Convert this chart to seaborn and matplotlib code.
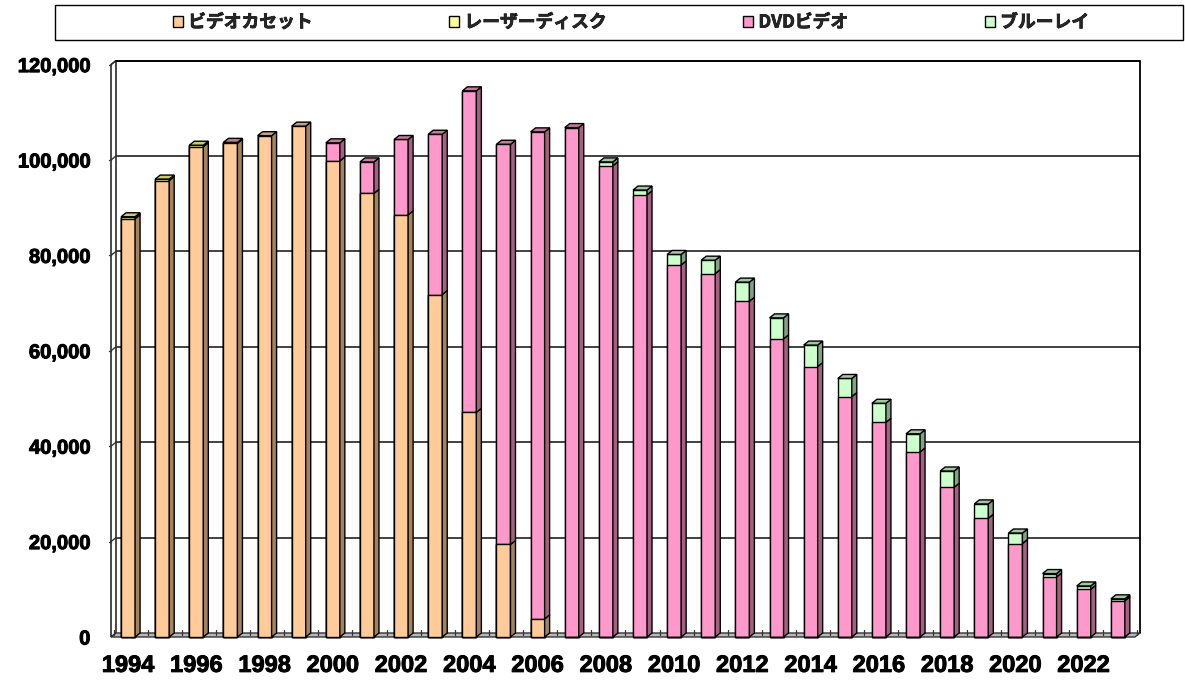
import numpy as np
import pandas as pd
import matplotlib
matplotlib.use("Agg")
import matplotlib.pyplot as plt
import matplotlib.patheffects as pe
import seaborn as sns
from matplotlib.patches import Polygon, Rectangle
from matplotlib.font_manager import FontProperties

# ---------------- data ----------------
years = list(range(1994, 2024))
vhs = [87700, 95700, 102800, 103500, 105100, 107100, 99800, 93000, 88500, 71800,
       47100, 19400, 3800] + [0] * 17
laserdisc = [400, 300, 300] + [0] * 27
dvd = [0, 0, 0, 200, 0, 0,
       3800, 6600, 15800, 33600, 67400, 83900, 102100, 106800,
       98800, 92700, 78000, 76200, 70400, 62500, 56700, 50400, 45000, 38800,
       31400, 24900, 19600, 12600, 10000, 7600]
bluray = [0] * 14 + [800, 1000, 2200, 2800, 4000, 4400, 4500, 3800, 4000, 3800,
                     3400, 3000, 2200, 700, 700, 400]
series_names = ["ビデオカセット", "レーザーディスク", "DVDビデオ", "ブルーレイ"]
y_ticks = [0, 20000, 40000, 60000, 80000, 100000, 120000]
y_tick_labels = ["0", "20,000", "40,000", "60,000", "80,000", "100,000", "120,000"]

# ---------------- style ----------------
fronts = ["#FFCC99", "#FFFF99", "#FF99CC", "#CCFFCC"]
sides = ["#A3825F", "#A3A35F", "#A3607F", "#82A382"]
tops = ["#C9A077", "#C9C977", "#C9789F", "#A0C9A0"]

sns.set_theme(style="white")
plt.rcParams["font.family"] = ["Liberation Sans", "DejaVu Sans"]

W, H = 1185, 681
fig = plt.figure(figsize=(W / 100, H / 100), dpi=100)

px_x = 34.13          # pixels per category
px_y = 4.77 / 1000.0  # pixels per unit value
xlim = (-0.7, 29.8)
ylim = (-1500, 122500)
ax_w = (xlim[1] - xlim[0]) * px_x
ax_h = (ylim[1] - ylim[0]) * px_y
ax_left = 111 - (-0.5 - xlim[0]) * px_x
ax_bottom = 637 + (0 - ylim[0]) * px_y
ax = fig.add_axes([ax_left / W, (H - ax_bottom) / H, ax_w / W, ax_h / H])

dx = 5.0 / px_x          # depth offset (categories)
dy = 4.0 / px_y          # depth offset (value units)
bw = 0.41                # bar width

year_str = [str(y) for y in years]
segs = np.array([vhs, laserdisc, dvd, bluray], dtype=float)
cums = np.cumsum(segs, axis=0)
df = pd.DataFrame({"year": year_str})
for k in range(4):
    df[f"c{k}"] = cums[k]

# ---------------- walls, floor, grid ----------------
n = len(years)
x0, x1 = -0.5, n - 0.5
ymax = y_ticks[-1]
ax.add_patch(Polygon([(x0, 0), (x0 + dx, dy), (x0 + dx, ymax + dy), (x0, ymax)],
                     closed=True, facecolor="white", edgecolor="black", lw=1.0, zorder=0.4))
for v in y_ticks[1:]:
    ax.plot([x0 + dx, x1 + dx], [v + dy, v + dy], color="#333333", lw=1.3, zorder=0.5)
    ax.plot([x0, x0 + dx], [v, v + dy], color="#333333", lw=1.0, zorder=0.5)
    ax.plot([x0 - 0.06, x0], [v, v], color="#333333", lw=1.0, zorder=0.5)
ax.plot([x0 + dx, x1 + dx, x1 + dx], [ymax + dy, ymax + dy, dy], color="black", lw=1.3, zorder=0.5)
ax.add_patch(Polygon([(x0, 0), (x1, 0), (x1 + dx, dy), (x0 + dx, dy)],
                     closed=True, facecolor="#B8B8B8", edgecolor="#333333", lw=1.0, zorder=0.6))
for k in range(n + 1):
    xx = k - 0.5 + dx * 0.5
    ax.plot([xx, xx], [dy * 0.5, dy * 0.5 + 1100], color="#333333", lw=0.9, zorder=0.7)

# ---------------- bars (front faces) ----------------
for k in reversed(range(4)):
    sns.barplot(data=df, x="year", y=f"c{k}", order=year_str, color=fronts[k],
                saturation=1, width=bw, edgecolor="black", linewidth=1.0,
                errorbar=None, ax=ax, zorder=3)

# ---------------- 3D side and top faces ----------------
for i in range(n):
    xr = i + bw / 2
    xl = i - bw / 2
    bottom = 0.0
    top_k = None
    for k in range(4):
        h = segs[k, i]
        if h <= 0:
            continue
        t = bottom + h
        ax.add_patch(Polygon([(xr, bottom), (xr + dx, bottom + dy), (xr + dx, t + dy), (xr, t)],
                             closed=True, facecolor=sides[k], edgecolor="black", lw=1.0, zorder=3.5))
        bottom = t
        top_k = k
    if top_k is not None:
        ax.add_patch(Polygon([(xl, bottom), (xl + dx, bottom + dy), (xr + dx, bottom + dy), (xr, bottom)],
                             closed=True, facecolor=tops[top_k], edgecolor="black", lw=1.0, zorder=3.6))

# ---------------- axes ----------------
thick = [pe.withStroke(linewidth=0.7, foreground="black")]
ax.set_xlim(*xlim)
ax.set_ylim(*ylim)
for s in ax.spines.values():
    s.set_visible(False)
ax.set_xlabel("")
ax.set_ylabel("")
ax.set_yticks(y_ticks)
ax.set_yticklabels(y_tick_labels, fontsize=14.5, fontweight="bold")
ax.set_xticks(range(0, n, 2))
ax.set_xticklabels(year_str[::2], fontsize=17, fontweight="bold")
for lab in ax.get_xticklabels() + ax.get_yticklabels():
    lab.set_path_effects(thick)
    lab.set_color("black")
ax.tick_params(axis="y", length=0, pad=10)
ax.tick_params(axis="x", length=0, pad=7)
ax.grid(False)

# ---------------- legend ----------------
handles = [Rectangle((0, 0), 1, 1, facecolor=fronts[k], edgecolor="black", lw=1.0) for k in range(4)]
leg = fig.legend(handles, series_names, loc="center", bbox_to_anchor=(631 / W, 1 - 22.5 / H),
                 ncol=4, frameon=False,
                 prop=FontProperties(family=["Noto Sans CJK JP", "DejaVu Sans"], weight="bold", size=12.8),
                 handlelength=0.55, handleheight=0.55, handletextpad=0.3, columnspacing=7.7)
for t in leg.get_texts():
    t.set_path_effects([pe.withStroke(linewidth=0.5, foreground="black")])
fig.patches.append(Rectangle((55 / W, 1 - 40 / H), (1183 - 55) / W, 35 / H,
                             transform=fig.transFigure, fill=False, edgecolor="black", lw=1.0))

fig.savefig("out.png", dpi=100, facecolor="white")
